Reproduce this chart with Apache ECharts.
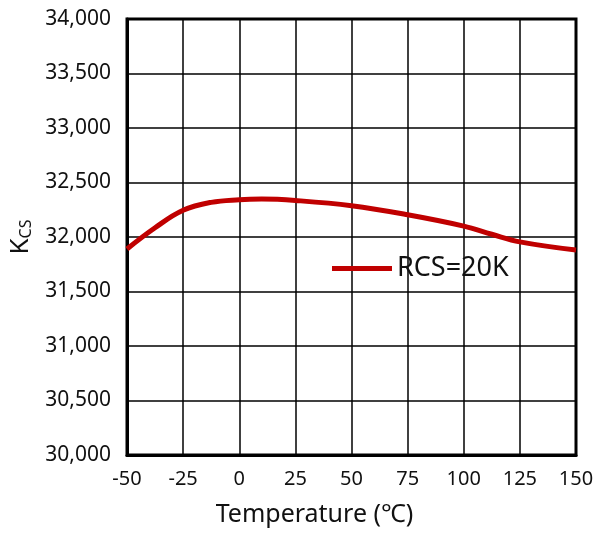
<!DOCTYPE html>
<html><head><meta charset="utf-8">
<script src="https://cdn.jsdelivr.net/npm/echarts@6/dist/echarts.min.js"></script>
<style>html,body{margin:0;padding:0;background:#fff}#c{width:596px;height:537px}</style>
</head><body><div id="c"></div>
<script>
const temps = [-50, -37.5, -25, -12.5, 0, 10, 25, 50, 75, 100, 112.5, 125, 150];
const kcs = [31890, 32085, 32245, 32318, 32342, 32348, 32335, 32287, 32204, 32100, 32025, 31955, 31880];
const seriesName = 'RCS=20K';
const xTitle = 'Temperature (℃)';
const font = '"Noto Sans", "Open Sans", sans-serif';
const chart = echarts.init(document.getElementById('c'));
chart.setOption({
  animation: false,
  grid: {left: 127, right: 20, top: 19, bottom: 82, show: true, borderColor: '#000', borderWidth: 3,
    containLabel: false, outerBoundsMode: 'none'},
  legend: {left: 327, top: 250, icon: 'rect', itemWidth: 60, itemHeight: 5, itemGap: 6,
    textStyle: {fontFamily: font, fontSize: 27, color: '#111'}, data: [seriesName]},
  xAxis: {type: 'value', min: -50, max: 150, interval: 25,
    name: xTitle, nameLocation: 'middle', nameGap: 47,
    nameTextStyle: {fontFamily: font, fontSize: 25, color: '#111', padding: [0, 74, 0, 0]},
    axisLine: {show: true, onZero: false, lineStyle: {color: '#000', width: 3}},
    axisTick: {show: false},
    axisLabel: {fontFamily: font, fontSize: 20, color: '#111', margin: 14},
    splitLine: {show: true, lineStyle: {color: '#000', width: 1.5}}},
  yAxis: {type: 'value', min: 30000, max: 34000, interval: 500,
    name: '{k|K}{s|CS}', nameLocation: 'middle', nameGap: 93, nameRotate: 90,
    nameTextStyle: {fontFamily: font, color: '#111', rich: {
      k: {fontFamily: font, fontSize: 26, color: '#111'},
      s: {fontFamily: font, fontSize: 16, color: '#111', padding: [10, 0, 0, 0]}}},
    axisLine: {show: true, onZero: false, lineStyle: {color: '#000', width: 3}},
    axisTick: {show: false},
    axisLabel: {fontFamily: font, fontSize: 21, color: '#111', margin: 16,
      formatter: v => v.toLocaleString('en-US')},
    splitLine: {show: true, lineStyle: {color: '#000', width: 1.5}}},
  series: [{name: seriesName, type: 'line', smooth: 0.4, showSymbol: false,
    data: temps.map((t, i) => [t, kcs[i]]),
    lineStyle: {color: '#C00000', width: 5}, itemStyle: {color: '#C00000'}}]
});
</script></body></html>
